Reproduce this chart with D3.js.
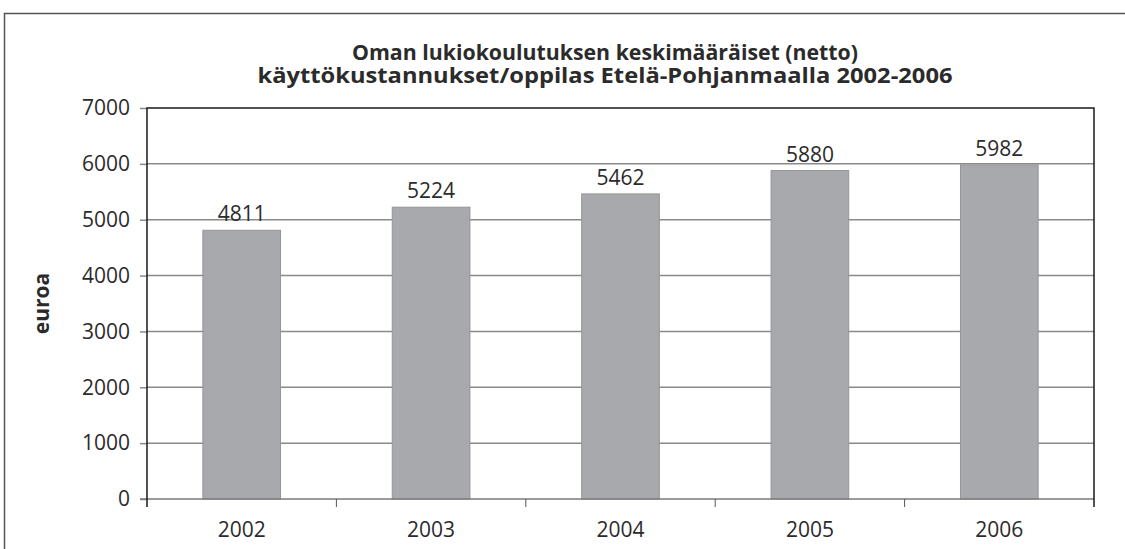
<!DOCTYPE html>
<html>
<head>
<meta charset="utf-8">
<script src="https://cdn.jsdelivr.net/npm/d3@7"></script>
<style>
  body { margin: 0; background: #fff; }
  svg text { font-family: "Open Sans", sans-serif; fill: #2b2b2b; }
</style>
</head>
<body>
<svg id="chart" width="1125" height="549"></svg>
<script>
// data
const years = ["2002", "2003", "2004", "2005", "2006"];
const costs = [4811, 5224, 5462, 5880, 5982];
const yTicks = [0, 1000, 2000, 3000, 4000, 5000, 6000, 7000];
const titleLines = ["Oman lukiokoulutuksen keskimääräiset (netto)",
                    "käyttökustannukset/oppilas Etelä-Pohjanmaalla 2002-2006"];

const svg = d3.select("#chart");
const m = {left: 147, right: 1094, top: 108, bottom: 499};

// outer frame
svg.append("path")
    .attr("d", "M4.5,549 V13.5 H1125")
    .attr("fill", "none")
    .attr("stroke", "#555")
    .attr("stroke-width", 1.5);

const x = d3.scaleBand().domain(years).range([m.left, m.right]).paddingInner(0.59).paddingOuter(0.295);
const y = d3.scaleLinear().domain([0, 7000]).range([m.bottom, m.top]);

// gridlines
svg.append("g")
    .selectAll("line")
    .data(yTicks.slice(1, -1))
    .join("line")
    .attr("x1", m.left).attr("x2", m.right)
    .attr("y1", d => y(d)).attr("y2", d => y(d))
    .attr("stroke", "#8a8a8a").attr("stroke-width", 1.5);

// bars
svg.append("g")
    .selectAll("rect")
    .data(costs)
    .join("rect")
    .attr("x", (d, i) => x(years[i]))
    .attr("y", d => y(d))
    .attr("width", x.bandwidth())
    .attr("height", d => y(0) - y(d))
    .attr("fill", "#a8a9ac")
    .attr("stroke", "#959596")
    .attr("stroke-width", 1);

// value labels
svg.append("g")
    .selectAll("text")
    .data(costs)
    .join("text")
    .attr("x", (d, i) => x(years[i]) + x.bandwidth() / 2)
    .attr("y", d => y(d) - 9)
    .attr("text-anchor", "middle")
    .attr("font-size", 21)
    .text(d => d);

// y axis
const yAxis = svg.append("g")
    .attr("transform", `translate(${m.left},0)`)
    .call(d3.axisLeft(y).tickValues(yTicks).tickSize(7).tickPadding(10).tickFormat(d3.format("d")));
yAxis.select(".domain").remove();
yAxis.selectAll("line").attr("stroke", "#8a8a8a").attr("stroke-width", 1.5);
yAxis.selectAll("text").attr("font-size", 21).style("font-family", "Open Sans, sans-serif").attr("fill", "#2b2b2b");

// x axis baseline and ticks at category boundaries
svg.append("line")
    .attr("x1", m.left - 7).attr("x2", m.right)
    .attr("y1", m.bottom).attr("y2", m.bottom)
    .attr("stroke", "#7a7a7a").attr("stroke-width", 1.5);
const step = x.step();
svg.append("g")
    .selectAll("line")
    .data(years.slice(1))
    .join("line")
    .attr("x1", (d) => x(d) - x.paddingInner() * step / 2)
    .attr("x2", (d) => x(d) - x.paddingInner() * step / 2)
    .attr("y1", m.bottom).attr("y2", m.bottom + 8)
    .attr("stroke", "#555").attr("stroke-width", 1);
svg.append("g")
    .selectAll("text")
    .data(years)
    .join("text")
    .attr("x", d => x(d) + x.bandwidth() / 2)
    .attr("y", 537)
    .attr("text-anchor", "middle")
    .attr("font-size", 21)
    .text(d => d);

// plot border (left, top, right)
svg.append("path")
    .attr("d", `M${m.left},${m.bottom + 8} V${m.top} H${m.right} V${m.bottom + 8}`)
    .attr("fill", "none")
    .attr("stroke", "#1a1a1a")
    .attr("stroke-width", 1.5);

// title, two lines in one text element
const title = svg.append("text")
    .attr("text-anchor", "middle")
    .attr("font-size", 21.5)
    .attr("font-weight", "bold");
title.selectAll("tspan")
    .data(titleLines)
    .join("tspan")
    .attr("x", 605)
    .attr("y", (d, i) => 60 + i * 23)
    .attr("textLength", (d, i) => i === 0 ? 506 : 695)
    .attr("lengthAdjust", "spacingAndGlyphs")
    .text(d => d);

// y axis title
svg.append("text")
    .attr("transform", `translate(49,${(m.top + m.bottom) / 2}) rotate(-90)`)
    .attr("text-anchor", "middle")
    .attr("font-size", 21)
    .attr("font-weight", "bold")
    .text("euroa");
</script>
</body>
</html>
